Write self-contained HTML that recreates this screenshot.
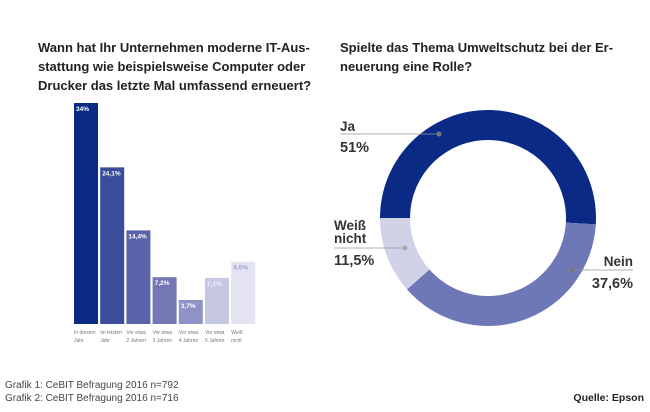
<!DOCTYPE html>
<html><head><meta charset="utf-8"><style>
body{margin:0;background:#fff;font-family:"Liberation Sans",sans-serif;}
#root{position:relative;width:650px;height:412px;overflow:hidden;}
.t{position:absolute;font-weight:bold;color:#222;font-size:13px;line-height:19px;}
</style></head><body><div id="root">
<div class="t" style="left:38px;top:38px;width:290px">Wann hat Ihr Unternehmen moderne IT-Aus&shy;stattung wie beispielsweise Computer oder Drucker das letzte Mal umfassend erneuert?</div>
<div class="t" style="left:340px;top:38px;width:300px">Spielte das Thema Umweltschutz bei der Er&shy;neuerung eine Rolle?</div>
<svg width="650" height="412" style="position:absolute;left:0;top:0">
<g id="bars"></g>
<g id="donut"></g>
<text x="5" y="388" font-size="10" fill="#444">Grafik 1: CeBIT Befragung 2016 n=792</text>
<text x="5" y="401" font-size="10" fill="#444">Grafik 2: CeBIT Befragung 2016 n=716</text>
<text x="644" y="401" font-size="10.5" font-weight="bold" fill="#222" text-anchor="end">Quelle: Epson</text>
</svg>
<script>
const categories1=["In diesem|Jahr","Im letzten|Jahr","Vor etwa|2 Jahren","Vor etwa|3 Jahren","Vor etwa|4 Jahren","Vor etwa|5 Jahren","Weiß|nicht"];
const values1=[34,24.1,14.4,7.2,3.7,7.1,9.6];
const labels1=["34%","24,1%","14,4%","7,2%","3,7%","7,1%","9,6%"];
const categories2=["Ja","Nein","Weiß nicht"];
const values2=[51,37.6,11.5];
const labels2=["51%","37,6%","11,5%"];
const NS="http://www.w3.org/2000/svg";
function mk(t,a,p){const e=document.createElementNS(NS,t);for(const k in a)e.setAttribute(k,a[k]);p.appendChild(e);return e;}
const barCols=["#0a2a85","#3a4c9b","#5863aa","#7378b5","#8e92c5","#c6c8e1","#e3e3f1"];
const lblCols=["#fff","#fff","#fff","#fff","#fff","#eef","#a3a5cf"];
const base=324,ppu=6.5,x0=74,pitch=26.2,bw=24;
const y=v=>base-v*ppu;
const bg=document.getElementById('bars');
values1.forEach((v,i)=>{
 const x=x0+i*pitch;
 const r=mk('rect',{x:x,y:y(v),width:bw,height:base-y(v),fill:barCols[i]},bg);
 
 
 const t=mk('text',{x:x+2,y:y(v)+8,'font-size':6.5,'font-weight':'bold',fill:lblCols[i]},bg);
 t.textContent=labels1[i];
 
 
 categories1[i].split('|').forEach((s,j)=>{
  const c=mk('text',{x:x,y:334+j*8,'font-size':5,fill:'#777'},bg);
  c.textContent=s;
  
  
 });
});
const dg=document.getElementById('donut');
const cx=488,cy=218,R=108,r=78;
const dCols=["#0a2a85","#6f78b6","#d1d2e8"];
const tot=values2.reduce((a,b)=>a+b,0);
let start=-90;
function pt(deg,rad){const t=deg*Math.PI/180;return [cx+rad*Math.sin(t),cy-rad*Math.cos(t)];}
values2.forEach((v,i)=>{
 const sw=v/tot*360,end=start+sw,lg=sw>180?1:0;
 const [x1,y1]=pt(start,R),[x2,y2]=pt(end,R),[x3,y3]=pt(end,r),[x4,y4]=pt(start,r);
 const p=mk('path',{d:`M${x1},${y1}A${R},${R} 0 ${lg} 1 ${x2},${y2}L${x3},${y3}A${r},${r} 0 ${lg} 0 ${x4},${y4}Z`,fill:dCols[i]},dg);
 
 
 start=end;
});
const ann=[{lx1:340,lx2:439,ly:134,dot:[439,134],tx:340,anchor:'start',name:[categories2[0]],val:labels2[0],ny:131,vy:152},
{lx1:575,lx2:633,ly:270,dot:[572,270],tx:633,anchor:'end',name:[categories2[1]],val:labels2[1],ny:266,vy:288},
{lx1:334,lx2:405,ly:248,dot:[405,248],tx:334,anchor:'start',name:["Weiß","nicht"],val:labels2[2],ny:243,vy:265}];
ann.forEach((o,i)=>{
 const l=mk('line',{x1:o.lx1,x2:o.lx2,y1:o.ly,y2:o.ly,stroke:'#999','stroke-width':0.7},dg);
 
 
 const d=mk('circle',{cx:o.dot[0],cy:o.dot[1],r:2.5,fill:i==2?'#aaa':'#777'},dg);
 
 
 o.name.forEach((s,j)=>{
  const t=mk('text',{x:o.tx,y:o.ny-(o.name.length-1-j)*13,'font-size':13.5,'font-weight':'bold',fill:'#333','text-anchor':o.anchor},dg);
  t.textContent=s;
  
  
 });
 const v=mk('text',{x:o.tx,y:o.vy,'font-size':14.5,'font-weight':'bold',fill:'#333','text-anchor':o.anchor},dg);
 v.textContent=o.val;
 
 
});
</script>
</div></body></html>
